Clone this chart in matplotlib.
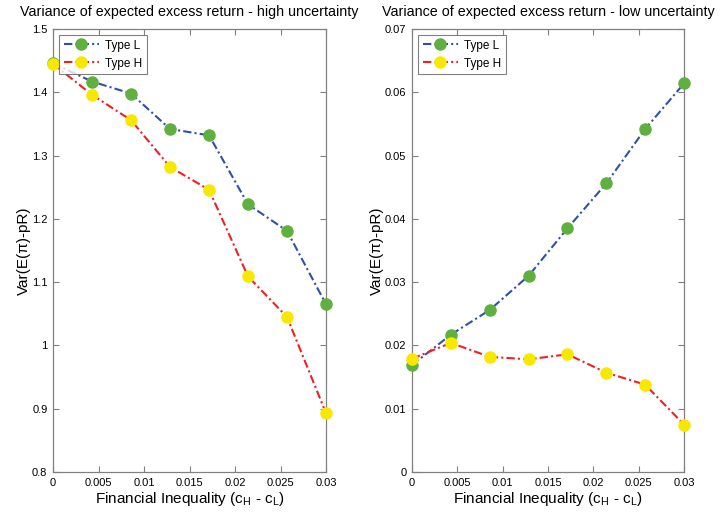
import matplotlib
matplotlib.use("Agg")
import matplotlib.pyplot as plt

plt.rcParams['font.family'] = ['Liberation Sans', 'DejaVu Sans']

x_vals = [0, 0.03/7, 0.06/7, 0.09/7, 0.12/7, 0.15/7, 0.18/7, 0.03]

high_L = [1.446, 1.417, 1.398, 1.342, 1.332, 1.223, 1.181, 1.065]
high_H = [1.445, 1.396, 1.356, 1.282, 1.246, 1.109, 1.045, 0.893]

low_L = [0.0169, 0.0217, 0.0256, 0.0310, 0.0385, 0.0456, 0.0542, 0.0614]
low_H = [0.0179, 0.0204, 0.0182, 0.0178, 0.0186, 0.0157, 0.0138, 0.0075]

x_ticks = [0, 0.005, 0.01, 0.015, 0.02, 0.025, 0.03]
x_ticklabels = ["0", "0.005", "0.01", "0.015", "0.02", "0.025", "0.03"]
y_ticks_high = [0.8, 0.9, 1.0, 1.1, 1.2, 1.3, 1.4, 1.5]
y_ticklabels_high = ["0.8", "0.9", "1", "1.1", "1.2", "1.3", "1.4", "1.5"]
y_ticks_low = [0, 0.01, 0.02, 0.03, 0.04, 0.05, 0.06, 0.07]
y_ticklabels_low = ["0", "0.01", "0.02", "0.03", "0.04", "0.05", "0.06", "0.07"]

titles = ["Variance of expected excess return - high uncertainty",
          "Variance of expected excess return - low uncertainty"]
series_names = ["Type L", "Type H"]

blue = "#3050a8"
red = "#f02020"
green = "#60b040"
yellow = "#f8e800"
spine_col = "#808080"

fig = plt.figure(figsize=(7.21, 5.14), dpi=100)
ax1 = fig.add_axes([53/721, 42/514, 273/721, 443/514])
ax2 = fig.add_axes([412/721, 42/514, 272/721, 443/514])

panels = [
    (ax1, high_L, high_H, y_ticks_high, y_ticklabels_high, (0.8, 1.5), titles[0]),
    (ax2, low_L, low_H, y_ticks_low, y_ticklabels_low, (0, 0.07), titles[1]),
]

dash = (0, (4, 1.5, 1, 1.5))

for ax, yL, yH, yt, ytl, ylim, title in panels:
    ax.plot(x_vals, yL, linestyle=dash, color=blue, linewidth=1.5,
            marker='o', markersize=8, markerfacecolor=green,
            markeredgecolor=green, label=series_names[0], clip_on=False, zorder=3)
    ax.plot(x_vals, yH, linestyle=dash, color=red, linewidth=1.5,
            marker='o', markersize=8, markerfacecolor=yellow,
            markeredgecolor=yellow, label=series_names[1], clip_on=False, zorder=4)
    ax.set_xlim(0, 0.03)
    ax.set_ylim(*ylim)
    ax.set_xticks(x_ticks)
    ax.set_xticklabels(x_ticklabels)
    ax.set_yticks(yt)
    ax.set_yticklabels(ytl)
    ax.tick_params(direction='in', length=4, width=0.8, colors='#000000',
                   labelsize=8, top=True, right=True, pad=4)
    ax.tick_params(axis='both', color=spine_col)
    for s in ax.spines.values():
        s.set_color(spine_col)
        s.set_linewidth(0.9)
    ax.set_title(title, fontsize=10.3, pad=9)
    ax.set_xlabel("Financial Inequality (c$_\\mathregular{H}$ - c$_\\mathregular{L}$)",
                  fontsize=11, labelpad=1.5)
    ax.set_ylabel("Var(E(\u03c0)-pR)", fontsize=11, labelpad=1)
    leg = ax.legend(loc='upper left', fontsize=8.5, frameon=True, fancybox=False,
                    edgecolor='#606060', borderpad=0.4, handlelength=3.0,
                    labelspacing=0.5, borderaxespad=0.5, handletextpad=0.5)
    leg.get_frame().set_linewidth(0.8)

fig.savefig("out.png", dpi=100)
